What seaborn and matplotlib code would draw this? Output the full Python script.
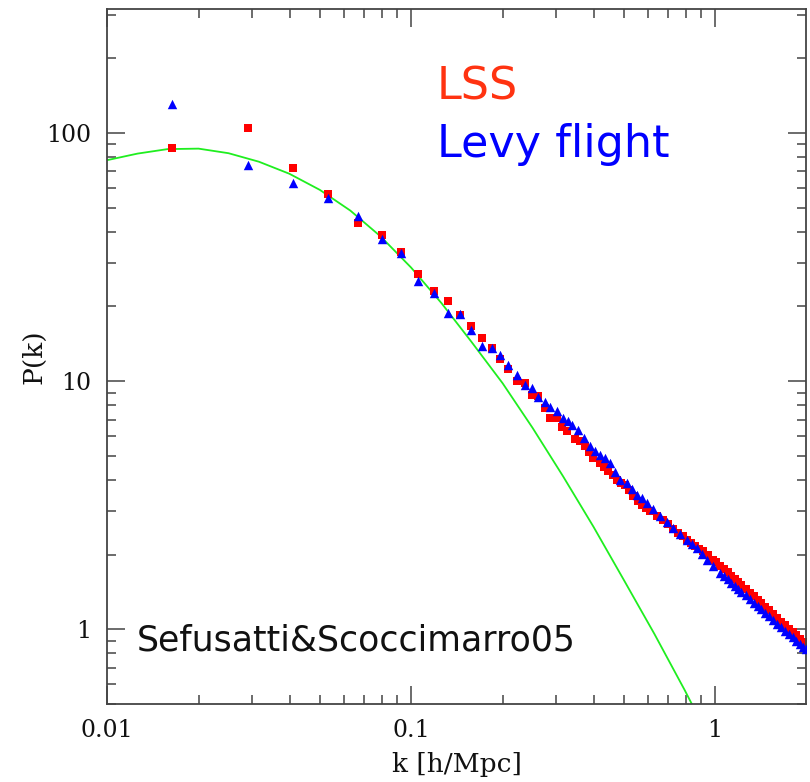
import matplotlib
matplotlib.use("Agg")
import matplotlib.pyplot as plt
import seaborn as sns
from matplotlib.ticker import FixedLocator, FixedFormatter, LogLocator, NullFormatter

# ---- measured power spectra -------------------------------------------------
lss_k = [0.0164, 0.0291, 0.0409, 0.0532, 0.0668, 0.0800, 0.0925, 0.1050, 0.1186, 0.132,
         0.1449, 0.1573, 0.1709, 0.1843, 0.1967, 0.2089, 0.2227, 0.2371, 0.2495, 0.2623,
         0.2759, 0.2866, 0.3015, 0.3127, 0.3253, 0.3463, 0.3597, 0.3736, 0.3850, 0.3978,
         0.4183, 0.4313, 0.4457, 0.4601, 0.4750, 0.4908, 0.5058, 0.5214, 0.5387, 0.5561,
         0.5741, 0.5929, 0.6112, 0.6428, 0.6718, 0.7020, 0.7290, 0.7572, 0.7818, 0.8070,
         0.8339, 0.8593, 0.8858, 0.9152, 0.9484, 0.9872, 1.01, 1.04, 1.07, 1.10,
         1.13, 1.16, 1.19, 1.22, 1.26, 1.30, 1.34, 1.38, 1.42, 1.46,
         1.50, 1.55, 1.60, 1.65, 1.70, 1.75, 1.80, 1.85, 1.90, 1.95, 1.99]
lss_P = [86.8, 104.4, 72.5, 56.6, 43.4, 38.9, 33.2, 27.0, 23.0, 21.0,
         18.5, 16.7, 14.9, 13.6, 12.3, 11.2, 9.98, 9.83, 8.83, 8.69,
         7.80, 7.13, 7.11, 6.56, 6.28, 5.82, 5.76, 5.47, 5.20, 4.91,
         4.69, 4.49, 4.34, 4.17, 4.01, 3.90, 3.83, 3.63, 3.44, 3.30,
         3.18, 3.07, 2.99, 2.86, 2.75, 2.65, 2.54, 2.45, 2.38, 2.30,
         2.23, 2.16, 2.11, 2.07, 1.99, 1.91, 1.865, 1.804, 1.747, 1.694,
         1.644, 1.596, 1.551, 1.508, 1.455, 1.405, 1.358, 1.314, 1.272, 1.233,
         1.196, 1.153, 1.113, 1.075, 1.040, 1.006, 0.975, 0.945, 0.918, 0.891, 0.871]

levy_k = [0.0164, 0.0291, 0.0409, 0.0532, 0.0668, 0.0800, 0.0925, 0.1050, 0.1186, 0.132,
          0.1449, 0.1573, 0.1709, 0.1843, 0.1967, 0.2089, 0.2227, 0.2371, 0.2495, 0.2623,
          0.2759, 0.2866, 0.3015, 0.3170, 0.3272, 0.3378, 0.3551, 0.3708, 0.3880, 0.4030,
          0.4183, 0.4346, 0.4513, 0.4690, 0.4870, 0.5124, 0.5313, 0.5527, 0.5731, 0.5961,
          0.6253, 0.6593, 0.6927, 0.7290, 0.7672, 0.8070, 0.8370, 0.8705, 0.9028, 0.9391,
          0.9849, 1.0385, 1.07, 1.10, 1.13, 1.16, 1.19, 1.22, 1.26, 1.30,
          1.34, 1.38, 1.42, 1.46, 1.50, 1.55, 1.60, 1.65, 1.70, 1.75,
          1.80, 1.85, 1.90, 1.95, 1.99]
levy_P = [130.5, 74.3, 62.9, 54.6, 46.1, 37.3, 32.7, 25.3, 22.6, 18.9,
          18.6, 16.1, 13.8, 13.6, 12.8, 11.6, 10.6, 9.68, 9.39, 8.61,
          8.27, 7.90, 7.56, 7.11, 6.90, 6.68, 6.38, 5.92, 5.47, 5.25,
          5.06, 4.88, 4.69, 4.32, 4.01, 3.89, 3.69, 3.49, 3.37, 3.24,
          3.04, 2.86, 2.71, 2.57, 2.43, 2.30, 2.21, 2.13, 2.02, 1.91,
          1.80, 1.69, 1.637, 1.588, 1.542, 1.499, 1.458, 1.419, 1.369, 1.324,
          1.281, 1.240, 1.202, 1.166, 1.132, 1.093, 1.055, 1.020, 0.988, 0.957,
          0.928, 0.901, 0.875, 0.851, 0.832]

# ---- linear theory spectrum (Sefusatti & Scoccimarro 2005) --------------------
theory_k = [0.0100, 0.0126, 0.0158, 0.0200, 0.0251, 0.0316, 0.0398, 0.0501, 0.0631, 0.0794,
            0.1000, 0.126, 0.158, 0.200, 0.251, 0.316, 0.398, 0.501, 0.631, 0.794, 0.891]
theory_P = [77.7, 82.6, 86.1, 86.5, 82.9, 76.6, 68.5, 59.0, 48.7, 38.3,
            28.7, 20.6, 14.4, 9.81, 6.48, 4.14, 2.59, 1.58, 0.959, 0.569, 0.432]

x_ticks = [0.01, 0.1, 1]
x_tick_labels = ["0.01", "0.1", "1"]
y_ticks = [1, 10, 100]
y_tick_labels = ["1", "10", "100"]

# ---- figure -----------------------------------------------------------------
sns.set_style("ticks")
plt.rcParams["font.family"] = ["DejaVu Serif"]

fig = plt.figure(figsize=(8.1, 7.82), dpi=100)
ax = fig.add_axes([107 / 810, 1 - 704 / 782, 699 / 810, 695 / 782])

sns.lineplot(x=theory_k, y=theory_P, color="#1fee1f", linewidth=1.3,
             sort=False, estimator=None, ax=ax, zorder=1)
sns.scatterplot(x=lss_k, y=lss_P, marker="s", s=40, color="#ff0000",
                linewidth=0, ax=ax, zorder=2)
sns.scatterplot(x=levy_k, y=levy_P, marker="^", s=46, color="#0000ff",
                linewidth=0, ax=ax, zorder=3)

ax.set_xscale("log")
ax.set_yscale("log")
ax.set_xlim(0.01, 1.99)
ax.set_ylim(0.5, 316)

ax.xaxis.set_major_locator(FixedLocator(x_ticks))
ax.xaxis.set_major_formatter(FixedFormatter(x_tick_labels))
ax.xaxis.set_minor_locator(LogLocator(base=10, subs=range(2, 10), numticks=20))
ax.xaxis.set_minor_formatter(NullFormatter())
ax.yaxis.set_major_locator(FixedLocator(y_ticks))
ax.yaxis.set_major_formatter(FixedFormatter(y_tick_labels))
ax.yaxis.set_minor_locator(LogLocator(base=10, subs=range(2, 10), numticks=20))
ax.yaxis.set_minor_formatter(NullFormatter())

ax.tick_params(which="both", direction="in", top=True, right=True,
               color="#444444", width=1.1, labelsize=17, labelcolor="#111111", pad=11)
ax.tick_params(which="major", length=13)
ax.tick_params(which="minor", length=6.5)
for sp in ax.spines.values():
    sp.set_color("#444444")
    sp.set_linewidth(1.3)

ax.set_xlabel("k [h/Mpc]", fontsize=19, color="#111111")
ax.set_ylabel("P(k)", fontsize=19, color="#111111")
ax.xaxis.set_label_coords(0.5, -0.069)
ax.yaxis.set_label_coords(-0.086, 0.5)

ax.text(0.472, 0.8705, "LSS", transform=ax.transAxes, color="#ff3311",
        fontsize=32, family="DejaVu Sans", va="baseline", ha="left")
ax.text(0.472, 0.787, "Levy flight", transform=ax.transAxes, color="#0000ff",
        fontsize=32, family="DejaVu Sans", va="baseline", ha="left")
ax.text(0.043, 0.0767, "Sefusatti&Scoccimarro05", transform=ax.transAxes,
        color="#111111", fontsize=25, family="DejaVu Sans", va="baseline", ha="left")

fig.savefig("out.png", dpi=100)
